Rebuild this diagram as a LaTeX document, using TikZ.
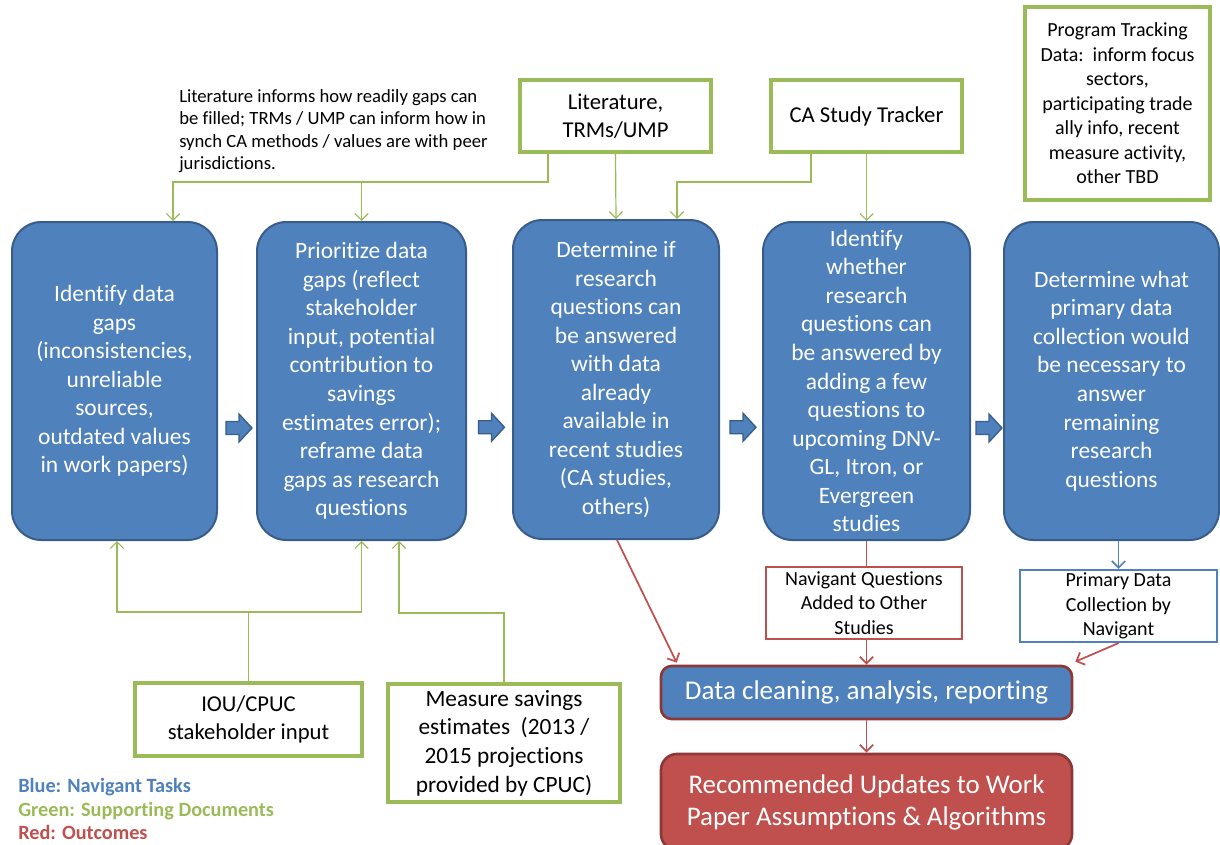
\documentclass[tikz,border=0pt]{standalone}
\usepackage{fontspec}
\setmainfont{Carlito}[Ligatures=NoCommon]
\usetikzlibrary{arrows.meta,calc}
\definecolor{nblue}{HTML}{4F81BD}
\definecolor{nblueD}{HTML}{385D8A}
\definecolor{ngreen}{HTML}{9BBB59}
\definecolor{nred}{HTML}{C0504D}
\definecolor{nredD}{HTML}{8C3836}
\begin{document}
\begin{tikzpicture}[x=0.75pt,y=-0.75pt,
 bluebox/.style={draw=nblueD, fill=nblue, line width=1.5pt, rounded corners=22pt, text=white, align=center, inner sep=0pt, font=\fontsize{17.6}{21.4}\selectfont},
 greenbox/.style={draw=ngreen, fill=white, line width=2.3pt, align=center, inner sep=0pt, font=\fontsize{17}{21}\selectfont},
 smallbox/.style={fill=white, line width=1.6pt, align=center, inner sep=0pt, font=\fontsize{15}{18.4}\selectfont},
 gline/.style={draw=ngreen, line width=0.9pt},
 garrow/.style={gline, -{Straight Barb[length=5pt,width=10pt]}},
 rline/.style={draw=nred, line width=1.3pt},
 rarrow/.style={rline, -{Straight Barb[length=5pt,width=10pt]}},
 barrow/.style={draw=nblue, line width=1.3pt, -{Straight Barb[length=5pt,width=10pt]}},
 blockarr/.style={draw=nblueD, fill=nblue, line width=1pt},
]
\useasboundingbox (0,0) rectangle (1220,845);

% main blue process boxes
\node[bluebox, minimum width=153.75pt, minimum height=238.5pt] (b1) at (114.5,381)
 {Identify data\\gaps\\(inconsistencies,\\unreliable\\sources,\\outdated values\\in work papers)};
\node[bluebox, minimum width=156.75pt, minimum height=238.5pt] (b2) at (361.5,381)
 {Prioritize data\\gaps (reflect\\stakeholder\\input, potential\\contribution to\\savings\\estimates error);\\reframe data\\gaps as research\\questions};
\node[bluebox, minimum width=154.5pt, minimum height=239.25pt] (b3) at (616,379.5)
 {Determine if\\research\\questions can\\be answered\\with data\\already\\available in\\recent studies\\(CA studies,\\others)};
\node[bluebox, minimum width=155.25pt, minimum height=238.5pt] (b4) at (866.5,381)
 {Identify\\whether\\research\\questions can\\be answered by\\adding a few\\questions to\\upcoming DNV-\\GL, Itron, or\\Evergreen\\studies};
\node[bluebox, minimum width=161.25pt, minimum height=238.5pt] (b5) at (1111.5,381)
 {Determine what\\primary data\\collection would\\be necessary to\\answer\\remaining\\research\\questions};

% block arrows
\foreach \a/\b in {b1/b2,b2/b3,b3/b4,b4/b5}{
 \begin{scope}[shift={($(\a.east)!0.5!(\b.west)+(2,47)$)}]
  \draw[blockarr] (-13,-6.5) -- (0,-6.5) -- (0,-14) -- (13,0) -- (0,14) -- (0,6.5) -- (-13,6.5) -- cycle;
 \end{scope}
}

% green supporting documents
\node[greenbox, minimum width=143.25pt, minimum height=54pt] (lit) at (615.5,116) {Literature,\\TRMs/UMP};
\node[greenbox, minimum width=143.25pt, minimum height=54pt] (cat) at (866.5,116) {CA Study Tracker};
\node[greenbox, minimum width=138.75pt, minimum height=144.75pt, font=\fontsize{15}{18.4}\selectfont] (ptd) at (1117.5,103.5)
 {Program Tracking\\Data:\ \ inform focus\\sectors,\\participating trade\\ally info, recent\\measure activity,\\other TBD};
\node[greenbox, minimum width=170.25pt, minimum height=54.75pt] (iou) at (248.5,719.5) {IOU/CPUC\\stakeholder input};
\node[greenbox, minimum width=174pt, minimum height=88.5pt, font=\fontsize{17.5}{21.5}\selectfont] (meas) at (504,743)
 {Measure savings\\estimates\ \ (2013 /\\2015 projections\\provided by CPUC)};

\node[anchor=west, align=left, inner sep=0pt, font=\fontsize{14}{16.7}\selectfont] (note) at (179,131)
 {Literature informs how readily gaps can\\be filled; TRMs / UMP can inform how in\\synch CA methods / values are with peer\\jurisdictions.};

% outcome boxes
\node[smallbox, draw=nred, minimum width=147pt, minimum height=54pt] (nq) at (864,603) {Navigant Questions\\Added to Other\\Studies};
\node[smallbox, draw=nblue, minimum width=147.75pt, minimum height=54pt] (pd) at (1118.5,606) {Primary Data\\Collection by\\Navigant};
\node[draw=nredD, fill=nblue, line width=2pt, rounded corners=8pt, text=white, inner sep=0pt,
 minimum width=308.25pt, minimum height=39.75pt, font=\fontsize{20.3}{24}\selectfont] (dc) at (866.5,692.5) {Data cleaning, analysis, reporting};
\node[draw=nredD, fill=nred, line width=2pt, rounded corners=12pt, text=white, align=center, inner sep=0pt,
 minimum width=308.25pt, minimum height=72pt, font=\fontsize{20.2}{24}\selectfont] (rec) at (866.5,802) {Recommended Updates to Work\\Paper Assumptions \& Algorithms};

% legend
\node[anchor=west, align=left, inner sep=0pt, font=\bfseries\fontsize{15.2}{17.4}\selectfont] (legend) at (18,809)
 {\textcolor{nblue}{Blue: Navigant Tasks}\\\textcolor{ngreen}{Green: Supporting Documents}\\\textcolor{nred}{Red: Outcomes}};

% green connectors (top)
\draw[garrow] ($(lit.south)+(-67.5,0)$) |- ($(b1.north)+(58.5,-39)$) -- ($(b1.north)+(58.5,0)$);
\draw[garrow] ($(b2.north)+(0,-39)$) -- (b2.north);
\draw[garrow] (lit.south) -- (b3.north);
\draw[garrow] ($(cat.south)+(-55.5,0)$) |- ($(b3.north)+(61,-37)$) -- ($(b3.north)+(61,0)$);
\draw[garrow] (cat.south) -- (b4.north);

% green connectors (bottom)
\draw[garrow] (iou.north) |- ($(b1.south)+(2.5,71)$) -- ($(b1.south)+(2.5,0)$);
\draw[garrow] (iou.north) |- ($(b2.south)+(0,71)$) -- (b2.south);
\draw[garrow] (meas.north) |- ($(b2.south)+(37.5,72)$) -- ($(b2.south)+(37.5,0)$);

% outcome connectors
\draw[rarrow] ($(b3.south)+(1,0)$) -- ($(dc.north west)+(17,-2)$);
\draw[rline] (b4.south) -- (b4.south |- nq.north);
\draw[rarrow] (b4.south |- nq.south) -- (b4.south |- dc.north);
\draw[barrow] (pd.north |- b5.south) -- (pd.north);
\draw[rarrow] (pd.south) -- ($(dc.north east)+(2,-3)$);
\draw[rarrow] (dc.south) -- (rec.north);
\end{tikzpicture}
\end{document}
